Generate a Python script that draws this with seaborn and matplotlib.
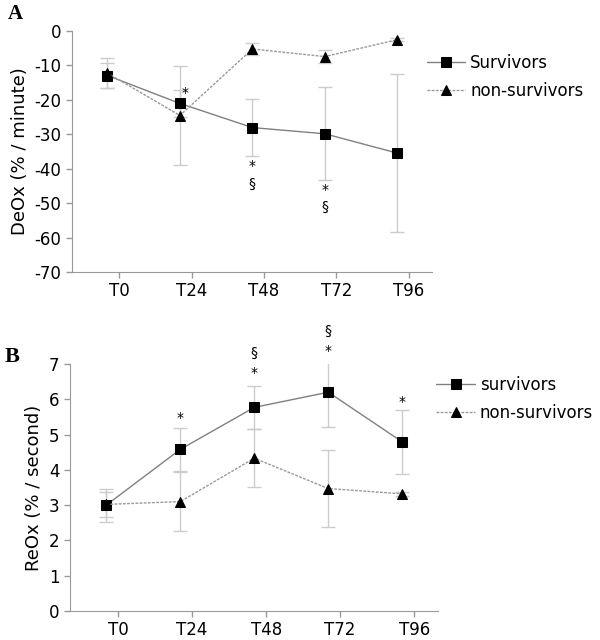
import numpy as np
import pandas as pd
import matplotlib.pyplot as plt
import seaborn as sns

sns.set_style('ticks')
plt.rcParams['font.family'] = ['DejaVu Sans']
plt.rcParams['axes.unicode_minus'] = False
plt.rcParams['text.color'] = 'black'
plt.rcParams['axes.labelcolor'] = 'black'

times = ['T0', 'T24', 'T48', 'T72', 'T96']

# panel A - DeOx
deox_surv = [-13.0, -21.1, -28.1, -29.9, -35.5]
deox_surv_err = [3.5, 4.0, 8.2, 13.5, 23.0]
deox_non = [-12.3, -24.6, -5.3, -7.5, -2.6]
deox_non_err = [4.3, 14.5, 1.7, 2.0, 0.5]

# panel B - ReOx
reox_surv = [3.0, 4.58, 5.77, 6.2, 4.79]
reox_surv_err = [0.47, 0.61, 0.61, 1.0, 0.9]
reox_non = [3.02, 3.1, 4.33, 3.47, 3.32]
reox_non_err = [0.35, 0.83, 0.82, 1.1, 0.05]

# significance marks: (time index, y, text)
marks_a = [(1.07, -18.0, '*'), (2, -39.2, '*'), (2, -44.5, '§'),
           (3, -46.2, '*'), (3, -51.2, '§')]
marks_b = [(1, 5.47, '*'), (2, 6.74, '*'), (2, 7.31, '§'),
           (3, 7.37, '*'), (3, 7.93, '§'), (4, 5.92, '*')]

pos = np.arange(len(times))
grey = '#999999'


def panel(ax, surv, surv_err, non, non_err, labels, ylim, yticks, ylabel, marks, leg_at):
    df = pd.DataFrame({'pos': np.concatenate([pos, pos]),
                       'val': surv + non,
                       'group': [labels[0]] * 5 + [labels[1]] * 5})
    ax.errorbar(pos, surv, yerr=surv_err, fmt='none', ecolor='#cccccc',
                elinewidth=1, capsize=5, zorder=1)
    ax.errorbar(pos, non, yerr=non_err, fmt='none', ecolor='#cccccc',
                elinewidth=1, capsize=5, zorder=1)
    sns.lineplot(data=df[df.group == labels[0]], x='pos', y='val', ax=ax,
                 color='#808080', lw=1, marker='s', ms=7, mfc='black', mec='black',
                 label=labels[0], zorder=3)
    sns.lineplot(data=df[df.group == labels[1]], x='pos', y='val', ax=ax,
                 color='#999999', lw=1, ls=(0, (2, 1)), marker='^', ms=7,
                 mfc='black', mec='black', label=labels[1], zorder=3)
    for x, y, t in marks:
        ax.text(x, y, t, ha='center', va='center', fontsize=10)
    ax.set_xlim(-0.49, 4.48)
    ax.set_ylim(*ylim)
    ax.set_yticks(yticks)
    ax.set_xticks(pos + 0.16, times)
    ax.set_xlabel('')
    ax.set_ylabel(ylabel, fontsize=13)
    sns.despine(ax=ax)
    for s in ['left', 'bottom']:
        ax.spines[s].set_color(grey)
    ax.tick_params(colors=grey, labelcolor='black', labelsize=12, length=4, width=1)
    ax.legend(loc='upper left', bbox_to_anchor=leg_at, frameon=False,
              fontsize=12, handlelength=2.3, handletextpad=0.3, labelspacing=0.6,
              borderaxespad=0.0)


fig = plt.figure(figsize=(6, 6.4), dpi=100)
ax1 = fig.add_axes([0.12, 0.575, 0.6, 0.377])
ax2 = fig.add_axes([0.1167, 0.0453, 0.613, 0.386])

panel(ax1, deox_surv, deox_surv_err, deox_non, deox_non_err,
      ['Survivors', 'non-survivors'], (-70, 0), range(-70, 1, 10),
      'DeOx (% / minute)', marks_a, (0.967, 0.933))
panel(ax2, reox_surv, reox_surv_err, reox_non, reox_non_err,
      ['survivors', 'non-survivors'], (0, 7), range(0, 8),
      'ReOx (% / second)', marks_b, (0.978, 0.98))

fig.text(0.013, 0.97, 'A', fontsize=15, fontweight='bold', family='Liberation Serif')
fig.text(0.007, 0.435, 'B', fontsize=16, fontweight='bold', family='Liberation Serif')

fig.savefig('out.png', dpi=100)
